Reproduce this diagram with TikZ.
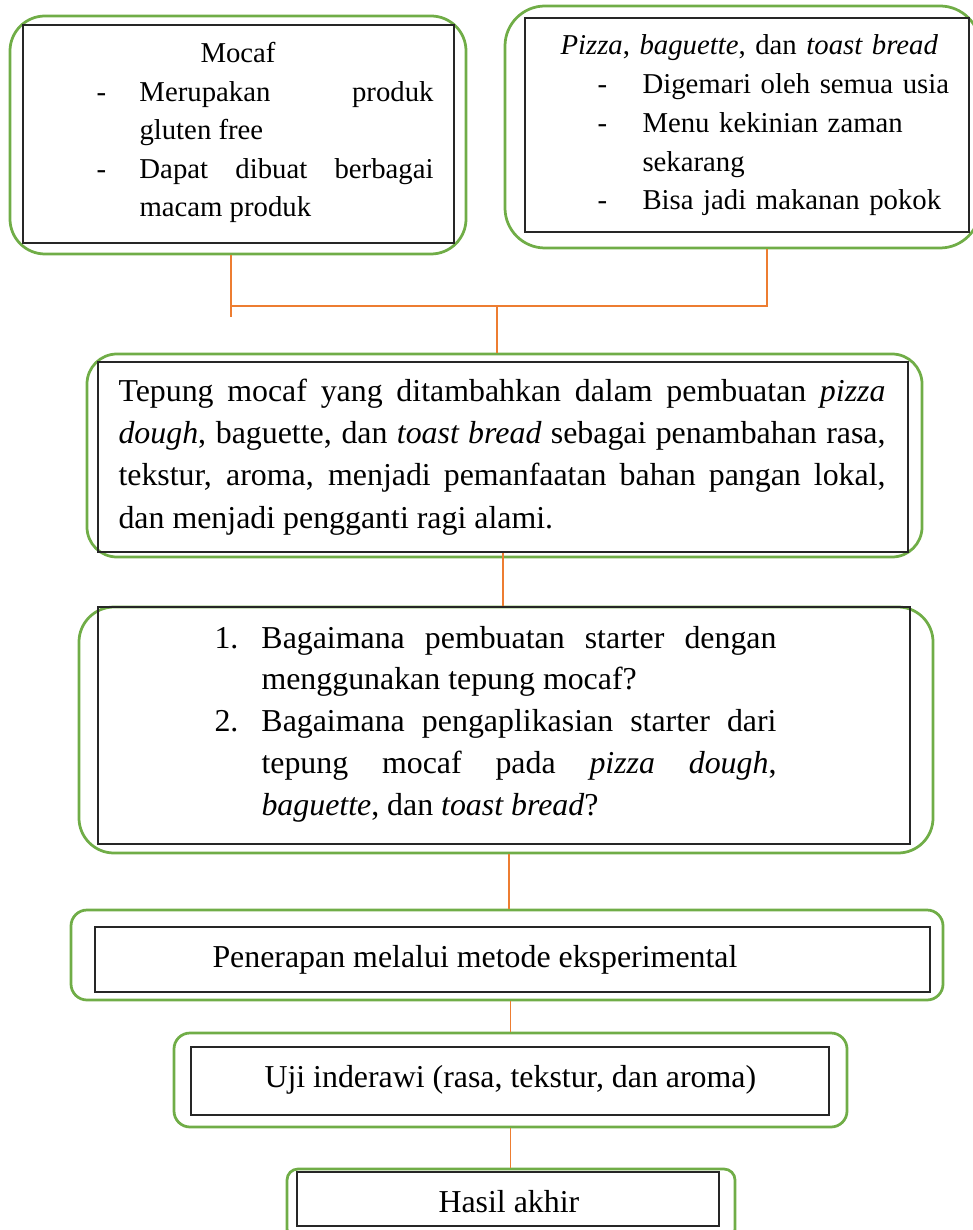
\documentclass[tikz,border=0pt]{standalone}
\usepackage{fontspec}
\setmainfont{Liberation Serif}
\definecolor{framegreen}{RGB}{112,173,71}
\definecolor{linkorange}{RGB}{237,125,49}
\newcommand{\itemline}[4]{\hangindent=#3\hangafter=1\noindent\hspace*{#2}\makebox[\dimexpr#3-#2\relax][l]{#1}#4\par}
\tolerance=10000
\hyphenpenalty=10000
\begin{document}
\begin{tikzpicture}[x=0.4pt,y=-0.4pt,
    greenframe/.style={draw=framegreen,line width=1.1pt,inner sep=0pt},
    blackframe/.style={draw=black!85,line width=0.5pt,inner sep=0pt},
    textbox/.style={inner sep=0pt,anchor=base west,align=justify},
    link/.style={draw=linkorange,line width=0.45pt}]
    \useasboundingbox (0,0) rectangle (972,1230);
      % green frames
      \node[greenframe,rounded corners=14pt,minimum width=182.4pt,minimum height=95.2pt] (g1) at (238,135) {};
      \node[greenframe,rounded corners=16pt,minimum width=190pt,minimum height=96.8pt] (g2) at (742.5,127) {};
      \node[greenframe,rounded corners=12pt,minimum width=334pt,minimum height=81.2pt] (g3) at (504.5,455.5) {};
      \node[greenframe,rounded corners=14pt,minimum width=341.6pt,minimum height=98.4pt] (g4) at (506,730) {};
      \node[greenframe,rounded corners=6.4pt,minimum width=348.8pt,minimum height=36pt] (g5) at (507,955) {};
      \node[greenframe,rounded corners=6.4pt,minimum width=269.2pt,minimum height=37.6pt] (g6) at (510.5,1080) {};
      \node[greenframe,rounded corners=4.4pt,minimum width=179.2pt,minimum height=28.4pt] (g7) at (511,1204.5) {};
      % black frames
      \node[blackframe,minimum width=172.4pt,minimum height=87.2pt] (b1) at (238.5,134) {};
      \node[blackframe,minimum width=177.6pt,minimum height=85.6pt] (b2) at (747,125) {};
      \node[blackframe,minimum width=324pt,minimum height=76pt] (b3) at (503,457) {};
      \node[blackframe,minimum width=324.8pt,minimum height=94.8pt] (b4) at (504,725.5) {};
      \node[blackframe,minimum width=334pt,minimum height=26pt] (b5) at (512.5,959.5) {};
      \node[blackframe,minimum width=255.2pt,minimum height=27.2pt] (b6) at (510,1081) {};
      \node[blackframe,minimum width=168.8pt,minimum height=21.6pt] (b7) at (508,1199) {};
      % texts
      \node[textbox,text width=134.8pt,font=\fontsize{11.5}{15.4}\selectfont] (t1) at (96,63) {%
        \noindent\hspace*{41.6pt}Mocaf\par
        \itemline{-}{0pt}{17.2pt}{Merupakan produk\linebreak gluten free}%
        \itemline{-}{0pt}{17.2pt}{Dapat dibuat berbagai\linebreak macam produk}};
      \node[textbox,align=left,text width=160pt,font=\fontsize{11.5}{15.5}\selectfont] (t2) at (560,55) {%
        \noindent\textit{Pizza}, \textit{baguette}, dan \textit{toast bread}\par
        \itemline{-}{14.8pt}{32.8pt}{Digemari oleh semua usia}%
        \itemline{-}{14.8pt}{32.8pt}{Menu kekinian zaman\newline sekarang}%
        \itemline{-}{14.8pt}{32.8pt}{Bisa jadi makanan pokok}};
      \node[textbox,text width=306.8pt,font=\fontsize{12.75}{16.8}\selectfont] (t3) at (118,402) {%
        Tepung mocaf yang ditambahkan dalam pembuatan \textit{pizza}\linebreak
        \textit{dough}, baguette, dan \textit{toast bread} sebagai penambahan rasa,\linebreak
        tekstur, aroma, menjadi pemanfaatan bahan pangan lokal,\linebreak
        dan menjadi pengganti ragi alami.};
      \node[textbox,text width=224.8pt,font=\fontsize{12.75}{16.7}\selectfont] (t4) at (214,648) {%
        \itemline{1.}{0pt}{18.8pt}{Bagaimana pembuatan starter dengan\linebreak menggunakan tepung mocaf?}%
        \itemline{2.}{0pt}{18.8pt}{Bagaimana pengaplikasian starter dari\linebreak tepung mocaf pada \textit{pizza dough},\linebreak \textit{baguette}, dan \textit{toast bread}?}};
      \node[textbox,font=\fontsize{12.75}{15}\selectfont] (t5) at (212,967) {Penerapan melalui metode eksperimental};
      \node[textbox,font=\fontsize{12.75}{15}\selectfont] (t6) at (264,1087) {Uji inderawi (rasa, tekstur, dan aroma)};
      \node[textbox,font=\fontsize{12.75}{15}\selectfont] (t7) at (438,1212) {Hasil akhir};
      % connectors
      \coordinate (jl) at (231,306);
      \coordinate (jr) at (767,306);
      \coordinate (jm) at (497,306);
      \coordinate (lowend) at (231,317);
      \draw[link] (g1.south -| lowend) -- (lowend);
      \draw[link] (jl) -- (jr) -- (g2.south -| jr);
      \draw[link] (jm) -- (jm |- g3.north);
      \draw[link] (b3.south) -- (b3.south |- b4.north);
      \draw[link] ([xshift=1.2pt]g4.south) -- ([xshift=1.2pt]g4.south |- g5.north);
      \draw[link] (g6.north |- g5.south) -- (g6.north);
      \draw[link] (g6.south) -- (g6.south |- g7.north);
    \end{tikzpicture}
\end{document}
